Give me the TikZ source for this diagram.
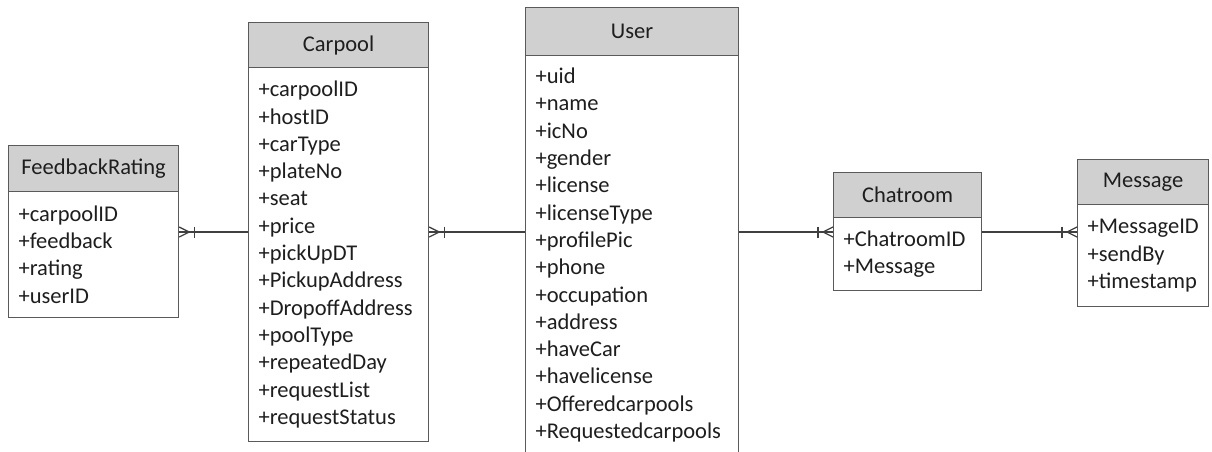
\documentclass[tikz,border=0pt]{standalone}
\usepackage{fontspec}
\setmainfont{Carlito}
\definecolor{boxline}{HTML}{5A5A5A}
\definecolor{headfill}{HTML}{D0D0D0}
\definecolor{connline}{HTML}{404040}
\definecolor{txt}{HTML}{1E1E1E}
\tikzset{
  head/.style={draw=boxline, fill=headfill, line width=1.2pt, anchor=north west,
    minimum height=45pt, inner sep=0pt, text=txt,
    font=\fontsize{22.5}{27.3}\selectfont},
  body/.style={draw=boxline, fill=white, line width=1.2pt, anchor=north west,
    align=left, inner xsep=10pt, inner ysep=0pt, text=txt,
    font=\fontsize{22.5}{27.3}\selectfont},
  conn/.style={draw=connline, line width=1.3pt},
}
\newcommand\manyend[2]{%
  \begin{scope}[shift={(#1)}, xscale=#2]
    \draw[conn] (0,-5) -- (10,0) -- (0,5);
    \draw[conn] (15,-5.5) -- (15,5.5);
  \end{scope}}
\begin{document}
\begin{tikzpicture}[x=1pt,y=-1pt]
\useasboundingbox (0,0) rectangle (1212,452);
% FeedbackRating
\node[body, text width=150pt, minimum height=126pt] (fbb) at (8,191)
  {+carpoolID\\+feedback\\+rating\\+userID};
\node[head, minimum width=170pt, minimum height=46pt] (fbh) at (8,145) {FeedbackRating};
% Carpool
\node[body, text width=160pt, minimum height=374pt] (cpb) at (248,67)
  {+carpoolID\\+hostID\\+carType\\+plateNo\\+seat\\+price\\+pickUpDT\\+PickupAddress\\+DropoffAddress\\+poolType\\+repeatedDay\\+requestList\\+requestStatus};
\node[head, minimum width=180pt] (cph) at (248,22) {Carpool};
% User
\node[body, text width=193pt, minimum height=399pt] (usb) at (525,55)
  {+uid\\+name\\+icNo\\+gender\\+license\\+licenseType\\+profilePic\\+phone\\+occupation\\+address\\+haveCar\\+havelicense\\+Offeredcarpools\\+Requestedcarpools};
\node[head, minimum width=213pt, minimum height=48pt] (ush) at (525,7) {User};
% Chatroom
\node[body, text width=128pt, minimum height=73pt] (chb) at (833,217)
  {+ChatroomID\\+Message};
\node[head, minimum width=148pt] (chh) at (833,172) {Chatroom};
% Message
\node[body, text width=111pt, minimum height=102pt] (msb) at (1077,204)
  {+MessageID\\+sendBy\\+timestamp};
\node[head, minimum width=131pt] (msh) at (1077,159) {Message};
% connectors
\coordinate (l1a) at (fbb.east |- 0,232);
\coordinate (l1b) at (cpb.west |- 0,232);
\coordinate (l2a) at (cpb.east |- 0,232);
\coordinate (l2b) at (usb.west |- 0,232);
\coordinate (l3a) at (usb.east |- 0,232);
\coordinate (l3b) at (chb.west |- 0,232);
\coordinate (l4a) at (chb.east |- 0,232);
\coordinate (l4b) at (msb.west |- 0,232);
\draw[conn] (l1a) -- (l1b);
\draw[conn] (l2a) -- (l2b);
\draw[conn] (l3a) -- (l3b);
\draw[conn] (l4a) -- (l4b);
\manyend{l1a}{1}
\manyend{l2a}{1}
\manyend{l3b}{-1}
\manyend{l4b}{-1}
\end{tikzpicture}
\end{document}
